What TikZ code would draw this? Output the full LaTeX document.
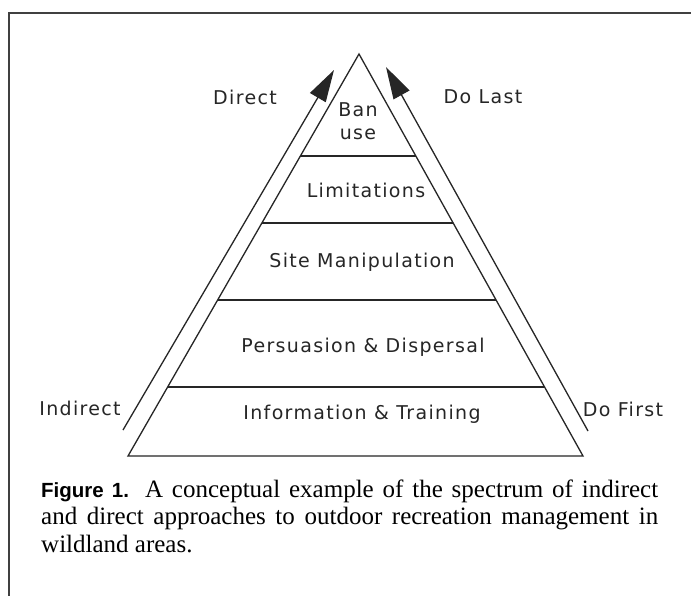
\documentclass[tikz,border=0pt]{standalone}
\usepackage{fontspec}
\setmainfont{Liberation Serif}
\newfontfamily\labfont[LetterSpace=7]{DejaVu Sans}
\newfontfamily\capsans{Liberation Sans}
\usetikzlibrary{calc,arrows.meta}
\begin{document}
\begin{tikzpicture}[x=1pt,y=-1pt,
  lab/.style={font=\labfont\fontsize{19}{23}\selectfont,inner sep=0pt,align=center,text=black!85},
  edge/.style={line width=1.3pt,black!85},
  dirarrow/.style={line width=1.3pt,black!85,-{Triangle[length=32pt,width=18pt]}},
  capline/.style={anchor=base west,inner sep=0pt,font=\fontsize{25}{27}\selectfont}]
\useasboundingbox (0,0) rectangle (691,596);
\fill[white] (0,0) rectangle (691,596);
% frame
\draw[line width=1.6pt,black!75] (9,600) -- (9,13) -- (695,13);
% pyramid
\coordinate (apex) at (359,54);
\coordinate (bl) at (128,456);
\coordinate (br) at (583,456);
\draw[edge,line join=miter] (bl) -- (apex) -- (br) -- cycle;
\foreach \t/\n in {0.7463/a,0.5796/b,0.3881/c,0.1716/d}{
  \coordinate (L\n) at ($(bl)!\t!(apex)$);
  \coordinate (R\n) at ($(br)!\t!(apex)$);
  \draw[edge] (L\n) -- (R\n);
}
% arrows
\coordinate (la0) at (123,430);
\coordinate (la1) at (334,70);
\coordinate (ra0) at (588,431);
\coordinate (ra1) at (386,67);
\draw[dirarrow] (la0) -- (la1);
\draw[dirarrow] (ra0) -- (ra1);
% layer texts
\node[lab] (ban) at (358,121) {Ban\\use};
\node[lab] (lim) at (366,190) {Limitations};
\node[lab] (site) at (362,262) {Site Manipulation};
\node[lab] (pers) at (363,347) {Persuasion \& Dispersal};
\node[lab] (info) at (362,414) {Information \& Training};
% side labels
\node[lab] (direct) at (245,97) {Direct};
\node[lab] (dolast) at (483,97) {Do Last};
\node[lab] (indirect) at (80,408) {Indirect};
\node[lab] (dofirst) at (623,409) {Do First};
% caption
\node[capline] (cap1) at (41,497)
  {\makebox[617pt][s]{{\capsans\bfseries\fontsize{20.5}{27}\selectfont Figure 1.} A conceptual example of the spectrum of indirect}};
\node[capline] (cap2) at (41,524)
  {\makebox[617pt][s]{and direct approaches to outdoor recreation management in}};
\node[capline] (cap3) at (41,552)
  {wildland areas.};
\end{tikzpicture}
\end{document}
